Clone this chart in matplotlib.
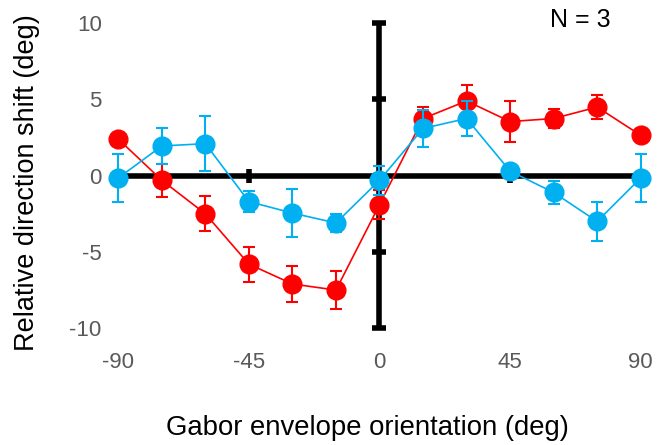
import numpy as np
import matplotlib
matplotlib.use("Agg")
import matplotlib.pyplot as plt

plt.rcParams["font.family"] = ["Liberation Sans", "DejaVu Sans"]

# orientation of the Gabor envelope (deg)
orient = [-90, -75, -60, -45, -30, -15, 0, 15, 30, 45, 60, 75, 90]

# red series
red_y = [2.4, -0.3, -2.5, -5.8, -7.1, -7.5, -1.9, 3.75, 4.9, 3.55, 3.75, 4.5, 2.65]
red_err = [0.4, 1.1, 1.15, 1.15, 1.2, 1.25, 0.95, 0.75, 1.05, 1.35, 0.65, 0.8, 0.3]

# blue series
blue_y = [-0.15, 1.95, 2.1, -1.7, -2.45, -3.1, -0.3, 3.1, 3.75, 0.3, -1.1, -3.0, -0.15]
blue_err = [1.55, 1.2, 1.8, 0.7, 1.55, 0.6, 0.95, 1.2, 1.15, 0.4, 0.75, 1.25, 1.55]

xticks = [-90, -45, 0, 45, 90]
yticks = [-10, -5, 0, 5, 10]

red = "#ff0000"
blue = "#00b0f0"
grey = "#595959"

fig = plt.figure(figsize=(6.57, 4.45), dpi=100)
ax = fig.add_axes([103.8/657, 1-343.45/445, 551.4/657, 335.5/445])
ax.set_xlim(-95, 95)
ax.set_ylim(-11, 11)
for s in ax.spines.values():
    s.set_visible(False)

# black cross-shaped axes through the origin
ax.plot([-90, 90], [0, 0], color="black", lw=4, solid_capstyle="butt", zorder=1)
ax.plot([0, 0], [-10, 10], color="black", lw=4, solid_capstyle="butt", zorder=1)
ax.plot([-90, -45, 45, 90], [0, 0, 0, 0], ls="none", marker="|", ms=10, mew=4,
        color="black", zorder=1)
ax.plot([0, 0, 0, 0], [-10, -5, 5, 10], ls="none", marker="_", ms=10, mew=4,
        color="black", zorder=1)

ax.errorbar(orient, red_y, yerr=red_err, color=red, marker="o", ms=13.5, lw=1.2,
            elinewidth=1.5, capsize=4, capthick=1.5, zorder=3)
ax.errorbar(orient, blue_y, yerr=blue_err, color=blue, marker="o", ms=13.5, lw=1.2,
            elinewidth=1.5, capsize=4, capthick=1.5, zorder=4)

ax.set_xticks(xticks)
ax.set_xticklabels([str(t) for t in xticks])
ax.set_yticks(yticks)
ax.set_yticklabels([str(t) for t in yticks])
ax.tick_params(axis="both", length=0, labelsize=16, labelcolor=grey)
ax.tick_params(axis="x", pad=6)
ax.tick_params(axis="y", pad=1.5)

fig.text(27/657, 1-183/445, "Relative direction shift (deg)", rotation=90,
         ha="center", va="center", fontsize=19.5)
fig.text(367.5/657, 1-428/445, "Gabor envelope orientation (deg)",
         ha="center", va="center", fontsize=19.8)
fig.text(580/657, 1-20/445, "N = 3", ha="center", va="center", fontsize=18)

fig.savefig("out.png", dpi=100)
